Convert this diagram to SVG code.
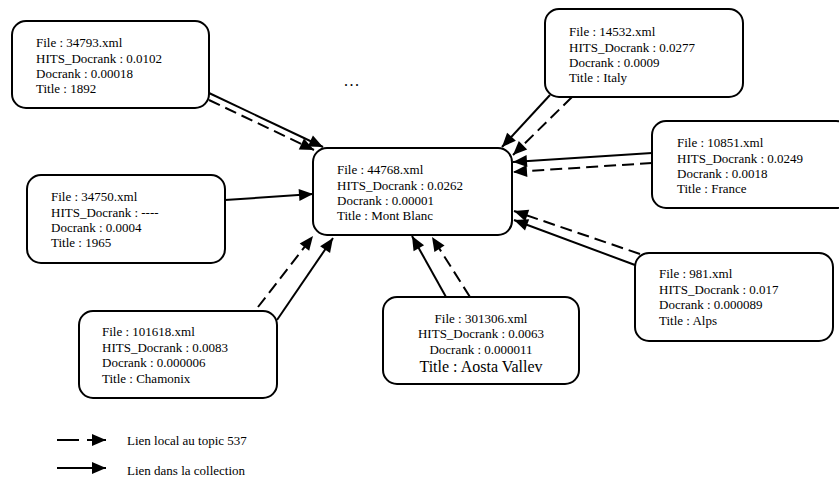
<svg xmlns="http://www.w3.org/2000/svg" width="839" height="477" viewBox="0 0 839 477">
<style>
.box{fill:#fff;stroke:#000;stroke-width:2}
.t{font-family:"Liberation Serif","Times New Roman",serif;font-size:13px;fill:#000}
.c{text-anchor:middle}
.big{font-size:16px}
.ln{fill:none;stroke:#000;stroke-width:2}
.solid{marker-end:url(#ah)}
.dash{stroke-dasharray:12 6;marker-end:url(#ah)}
</style>
<defs>
<marker id="ah" markerUnits="userSpaceOnUse" markerWidth="14" markerHeight="12" refX="14" refY="6" orient="auto" overflow="visible">
<path d="M0,0 L14,6 L0,12 z" fill="#000" stroke="none"/>
</marker>
</defs>
<rect width="839" height="477" fill="#fff"/>

<g id="connectors">
<line class="ln solid" x1="209" y1="93" x2="323" y2="147"/>
<line class="ln dash" x1="209" y1="100" x2="314" y2="150"/>
<line class="ln solid" x1="225" y1="200" x2="313" y2="194"/>
<line class="ln dash" x1="258" y1="307" x2="313" y2="236"/>
<line class="ln solid" x1="277" y1="320" x2="333" y2="238"/>
<line class="ln solid" x1="446" y1="297" x2="412" y2="236"/>
<line class="ln dash" x1="470" y1="297" x2="432" y2="237"/>
<line class="ln solid" x1="550" y1="95" x2="502" y2="147"/>
<line class="ln dash" x1="572" y1="97" x2="513" y2="155"/>
<line class="ln solid" x1="652" y1="153" x2="513" y2="162"/>
<line class="ln dash" x1="652" y1="163" x2="513" y2="172"/>
<line class="ln solid" x1="635" y1="265" x2="514" y2="220"/>
<line class="ln dash" x1="640" y1="254" x2="514" y2="211"/>
</g>

<g id="n34793">
<rect class="box" x="12" y="21" width="197" height="87" rx="14"/>
<text class="t" x="36" y="47">File : 34793.xml</text>
<text class="t" x="36" y="62.5">HITS_Docrank : 0.0102</text>
<text class="t" x="36" y="78">Docrank : 0.00018</text>
<text class="t" x="36" y="93">Title : 1892</text>
</g>

<g id="n14532">
<rect class="box" x="545" y="9" width="198" height="88" rx="14"/>
<text class="t" x="569" y="36">File : 14532.xml</text>
<text class="t" x="569" y="51.5">HITS_Docrank : 0.0277</text>
<text class="t" x="569" y="67">Docrank : 0.0009</text>
<text class="t" x="569" y="82">Title : Italy</text>
</g>

<g id="n10851">
<rect class="box" x="652" y="121" width="198" height="87" rx="14"/>
<text class="t" x="677" y="147">File : 10851.xml</text>
<text class="t" x="677" y="162.5">HITS_Docrank : 0.0249</text>
<text class="t" x="677" y="178">Docrank : 0.0018</text>
<text class="t" x="677" y="193">Title : France</text>
</g>

<g id="n34750">
<rect class="box" x="27" y="175" width="198" height="88" rx="14"/>
<text class="t" x="51" y="201">File : 34750.xml</text>
<text class="t" x="51" y="216.5">HITS_Docrank : ----</text>
<text class="t" x="51" y="232">Docrank : 0.0004</text>
<text class="t" x="51" y="247">Title : 1965</text>
</g>

<g id="n44768">
<rect class="box" x="313" y="148" width="199" height="87" rx="14"/>
<text class="t" x="337" y="174">File : 44768.xml</text>
<text class="t" x="337" y="189.5">HITS_Docrank : 0.0262</text>
<text class="t" x="337" y="205">Docrank : 0.00001</text>
<text class="t" x="337" y="220">Title : Mont Blanc</text>
</g>

<g id="n981">
<rect class="box" x="635" y="253" width="198" height="88" rx="14"/>
<text class="t" x="659" y="278">File : 981.xml</text>
<text class="t" x="659" y="293.5">HITS_Docrank : 0.017</text>
<text class="t" x="659" y="309">Docrank : 0.000089</text>
<text class="t" x="659" y="324.5">Title : Alps</text>
</g>

<g id="n101618">
<rect class="box" x="79" y="311" width="198" height="87" rx="14"/>
<text class="t" x="102" y="336">File : 101618.xml</text>
<text class="t" x="102" y="351.5">HITS_Docrank : 0.0083</text>
<text class="t" x="102" y="367">Docrank : 0.000006</text>
<text class="t" x="102" y="382.5">Title : Chamonix</text>
</g>

<g id="n301306">
<rect class="box" x="383" y="297" width="196" height="87" rx="14"/>
<text class="t c" x="481" y="323">File : 301306.xml</text>
<text class="t c" x="481" y="338">HITS_Docrank : 0.0063</text>
<text class="t c" x="481" y="354">Docrank : 0.000011</text>
<text class="t c big" x="481" y="372">Title : Aosta Vallev</text>
</g>

<text class="t big" x="344" y="86" letter-spacing="1.5">...</text>

<g id="legend">
<line class="ln" x1="57" y1="440" x2="79" y2="440"/>
<line class="ln" x1="87" y1="440" x2="106" y2="440" marker-end="url(#ah)"/>
<line class="ln" x1="57" y1="468" x2="106" y2="468" marker-end="url(#ah)"/>
<text class="t" x="127" y="445">Lien local au topic 537</text>
<text class="t" x="127" y="475">Lien dans la collection</text>
</g>
</svg>
